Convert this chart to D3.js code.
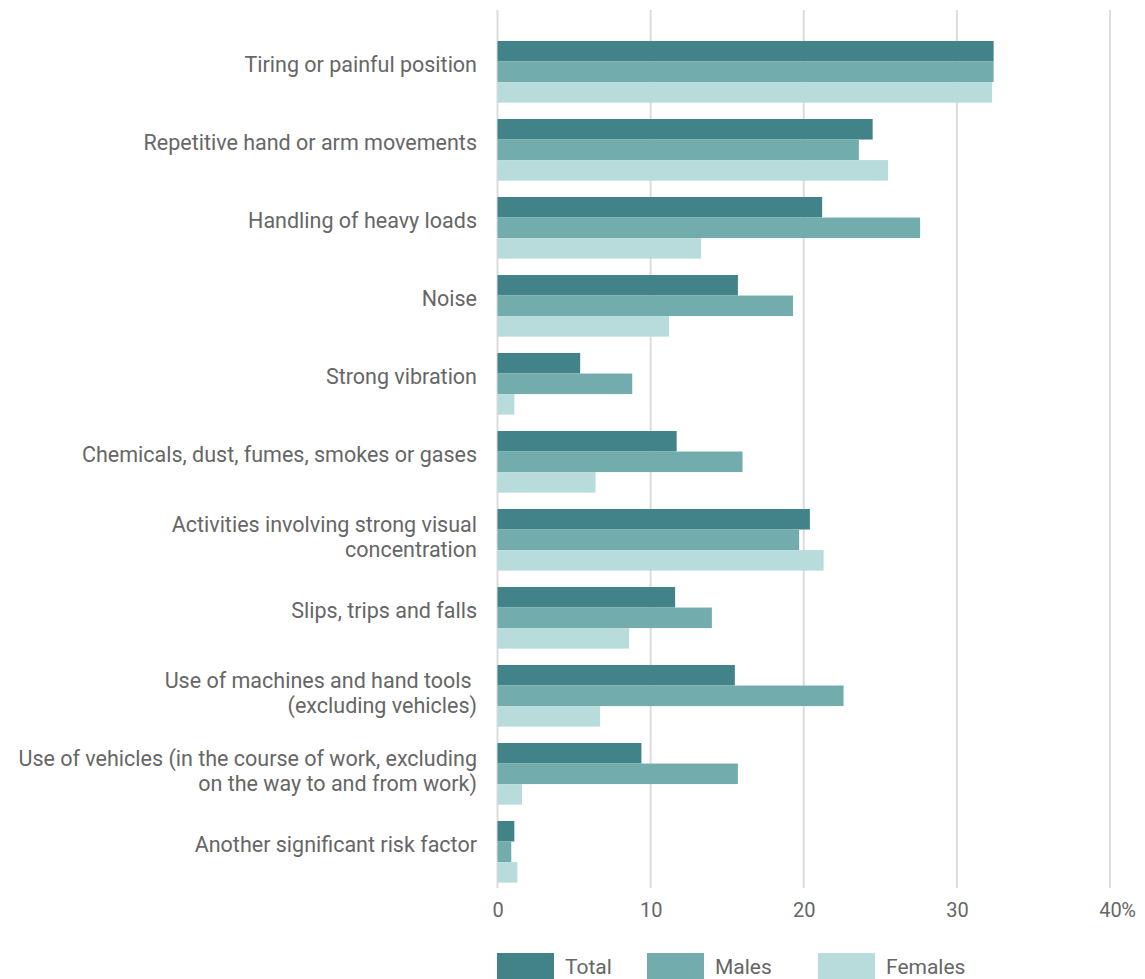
<!DOCTYPE html>
<html>
<head>
<meta charset="utf-8">
<script src="https://cdn.jsdelivr.net/npm/d3@7"></script>
<style>
  html, body { margin: 0; padding: 0; background: #fff; }
  svg { display: block; }
  text { font-family: Roboto, "Open Sans", sans-serif; fill: #666; }
</style>
</head>
<body>
<svg id="chart" width="1145" height="979"></svg>
<script>
const categories = [
  ["Tiring or painful position"],
  ["Repetitive hand or arm movements"],
  ["Handling of heavy loads"],
  ["Noise"],
  ["Strong vibration"],
  ["Chemicals, dust, fumes, smokes or gases"],
  ["Activities involving strong visual", "concentration"],
  ["Slips, trips and falls"],
  ["Use of machines and hand tools ", "(excluding vehicles)"],
  ["Use of vehicles (in the course of work, excluding", "on the way to and from work)"],
  ["Another significant risk factor"]
];
const seriesNames = ["Total", "Males", "Females"];
const total   = [32.4, 24.5, 21.2, 15.7, 5.4, 11.7, 20.4, 11.6, 15.5, 9.4, 1.1];
const males   = [32.4, 23.6, 27.6, 19.3, 8.8, 16.0, 19.7, 14.0, 22.6, 15.7, 0.9];
const females = [32.3, 25.5, 13.3, 11.2, 1.1, 6.4, 21.3, 8.6, 6.7, 1.6, 1.3];
const tickValues = [0, 10, 20, 30, 40];
const colors = ["#418388", "#72acad", "#b8dcdc"];

const series = [total, males, females];
const svg = d3.select("#chart");
const keys = categories.map((c, i) => i);

const x = d3.scaleLinear().domain([0, 40]).range([497.5, 1110]);
const y = d3.scaleBand().domain(keys).range([32.8, 890.8]).paddingInner(0.21).paddingOuter(0.105);
const ySub = d3.scaleBand().domain(seriesNames).range([0, y.bandwidth()]);

const FS = 21.5;

// gridlines
svg.append("g").selectAll("line").data(tickValues).join("line")
  .attr("x1", d => x(d)).attr("x2", d => x(d))
  .attr("y1", 10).attr("y2", 888)
  .attr("stroke", "#dcdcdc").attr("stroke-width", 2);

// bars
const groups = svg.append("g").selectAll("g").data(keys).join("g")
  .attr("transform", d => `translate(0,${y(d)})`);
groups.selectAll("rect").data(i => seriesNames.map((s, k) => ({s, v: series[k][i], k})))
  .join("rect")
  .attr("x", x(0))
  .attr("y", d => ySub(d.s))
  .attr("width", d => x(d.v) - x(0))
  .attr("height", ySub.bandwidth())
  .attr("fill", d => colors[d.k]);

// category labels
const lh = 25;
svg.append("g").selectAll("text").data(keys).join("text")
  .attr("text-anchor", "end")
  .attr("font-size", FS)
  .each(function(i) {
    const lines = categories[i];
    const n = lines.length;
    const cy = y(i) + y.bandwidth() / 2;
    d3.select(this).selectAll("tspan").data(lines).join("tspan")
      .attr("x", 477)
      .attr("y", (l, j) => cy + (j - (n - 1) / 2) * lh + (n - 1) * 5)
      .text(l => l);
  });

// x axis tick labels
const axis = d3.axisBottom(x).tickValues(tickValues).tickSize(0).tickPadding(0).tickFormat(d => d);
const ag = svg.append("g").attr("transform", "translate(0,917)").call(axis);
ag.select(".domain").remove();
ag.attr("font-family", null).attr("font-size", null);
ag.selectAll("text").attr("y", 0).attr("dy", 0)
  .attr("font-size", 20).attr("fill", "#666");
// percent suffix on last tick
const lastT = ag.selectAll("text").filter(d => d === 40);
const w40 = lastT.node().getComputedTextLength();
svg.append("text").attr("x", x(40) + w40 / 2).attr("y", 917).attr("font-size", 20).text("%");

// legend
const legendX = [497, 647, 818];
const lg = svg.append("g").selectAll("g").data(seriesNames).join("g")
  .attr("transform", (d, i) => `translate(${legendX[i]},953)`);
lg.append("rect").attr("width", 57).attr("height", 30).attr("fill", (d, i) => colors[i]);
lg.append("text").attr("x", 68).attr("y", 21).attr("font-size", 21).text(d => d);
</script>
</body>
</html>
